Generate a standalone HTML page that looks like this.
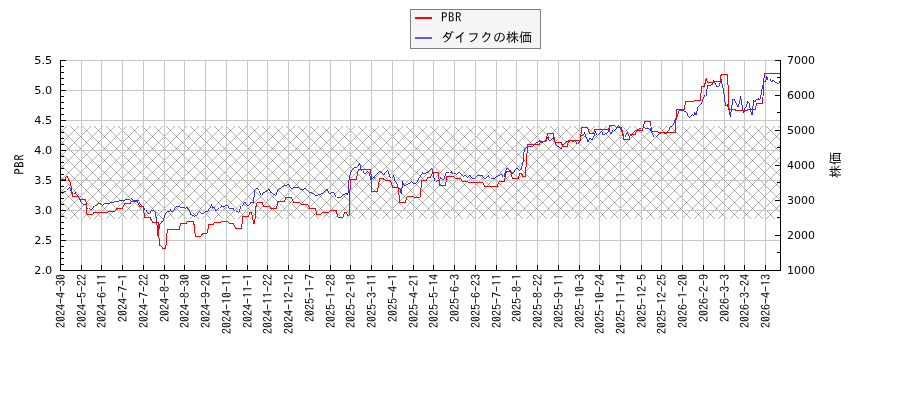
<!DOCTYPE html><html><head><meta charset="utf-8"><title>PBR</title><style>html,body{margin:0;padding:0;background:#fff}svg{display:block}.dv{font-family:"DejaVu Sans","Liberation Sans",sans-serif;font-size:11px;fill:#000}.ip{font-family:"IPAGothic","Liberation Sans","Noto Sans CJK JP",sans-serif;fill:#000}</style></head><body>
<svg width="900" height="400" viewBox="0 0 900 400">
<rect width="900" height="400" fill="#fff"/>
<defs><pattern id="h" width="12" height="12" patternUnits="userSpaceOnUse" x="68" y="124"><g fill="#000" fill-opacity="0.3" shape-rendering="crispEdges"><rect x="0" y="0" width="1" height="1"/><rect x="1" y="1" width="1" height="1"/><rect x="2" y="2" width="1" height="1"/><rect x="3" y="3" width="1" height="1"/><rect x="4" y="4" width="1" height="1"/><rect x="5" y="5" width="1" height="1"/><rect x="6" y="6" width="1" height="1"/><rect x="7" y="7" width="1" height="1"/><rect x="8" y="8" width="1" height="1"/><rect x="9" y="9" width="1" height="1"/><rect x="10" y="10" width="1" height="1"/><rect x="11" y="11" width="1" height="1"/><rect x="0" y="0" width="1" height="1"/><rect x="1" y="11" width="1" height="1"/><rect x="2" y="10" width="1" height="1"/><rect x="3" y="9" width="1" height="1"/><rect x="4" y="8" width="1" height="1"/><rect x="5" y="7" width="1" height="1"/><rect x="6" y="6" width="1" height="1"/><rect x="7" y="5" width="1" height="1"/><rect x="8" y="4" width="1" height="1"/><rect x="9" y="3" width="1" height="1"/><rect x="10" y="2" width="1" height="1"/><rect x="11" y="1" width="1" height="1"/></g></pattern><clipPath id="c"><rect x="60" y="60" width="721" height="211"/></clipPath></defs>
<rect x="61" y="126" width="719" height="93" fill="url(#h)"/>
<path d="M81.5 60V270M101.5 60V270M122.5 60V270M143.5 60V270M164.5 60V270M184.5 60V270M205.5 60V270M226.5 60V270M247.5 60V270M267.5 60V270M288.5 60V270M309.5 60V270M330.5 60V270M350.5 60V270M371.5 60V270M392.5 60V270M413.5 60V270M433.5 60V270M454.5 60V270M475.5 60V270M496.5 60V270M516.5 60V270M537.5 60V270M558.5 60V270M579.5 60V270M599.5 60V270M620.5 60V270M641.5 60V270M661.5 60V270M682.5 60V270M703.5 60V270M724.5 60V270M744.5 60V270M765.5 60V270M60 60.5H780M60 90.5H780M60 120.5H780M60 150.5H780M60 180.5H780M60 210.5H780M60 240.5H780M60 270.5H780" stroke="#c8c8c8" stroke-width="1" fill="none"/>
<g fill="none"><path d="M62.8 193.5L64.5 191.0L66.0 190.0L67.5 188.5L69.5 187.2L70.5 189.0L71.8 193.5L73.0 194.0L75.0 191.5L76.0 194.0L77.5 195.5L79.5 197.5L81.5 202.0L83.5 204.5L86.0 205.5L88.5 208.6L90.0 209.6L92.0 209.2L94.5 205.7L96.4 205.2L98.5 203.2L102.0 205.5L104.0 203.9L108.0 203.9L110.5 202.5L113.0 202.1L116.0 201.7L120.0 200.8L124.0 200.2L127.0 199.2L129.5 200.0L131.2 198.5L133.5 200.5L136.5 200.3L139.2 201.6L140.3 204.5L142.0 206.0L144.0 207.5L146.0 210.0L147.6 213.0L149.0 213.5L150.5 210.5L153.0 209.8L155.0 212.0L156.0 216.5L156.8 223.0L157.6 230.0L158.0 236.5L159.5 223.5L161.0 221.5L162.5 222.0L164.0 216.5L166.0 213.0L168.0 211.0L169.5 212.0L170.5 208.5L171.5 212.0L174.0 208.5L177.5 206.3L180.0 208.0L182.0 207.8L184.5 208.0L187.2 206.5L189.0 210.0L191.0 214.5L193.5 216.0L196.5 215.0L198.5 211.5L201.0 213.3L204.0 213.3L205.5 211.0L207.5 211.0L210.0 206.5L211.5 203.5L213.0 207.5L214.5 207.5L216.5 210.5L219.0 208.0L221.0 205.5L222.5 206.5L224.5 205.5L226.0 206.0L228.0 205.5L230.0 208.5L233.5 208.5L235.5 211.0L238.0 212.5L239.5 211.0L241.0 206.0L243.0 203.5L245.0 202.2L247.5 205.5L250.0 202.5L253.5 202.2L254.5 189.5L256.5 188.2L259.0 190.5L261.5 195.0L262.5 192.5L265.5 191.0L269.0 189.2L271.0 192.5L273.5 194.5L275.2 196.0L277.0 190.5L278.5 188.5L282.0 187.2L284.5 185.5L287.0 185.2L288.5 184.2L290.0 186.5L292.0 188.5L295.0 187.2L297.5 187.5L300.0 189.5L303.0 189.5L304.5 188.5L307.0 190.5L309.0 191.8L312.0 193.2L313.0 193.5L315.5 195.5L319.0 194.5L322.0 193.5L325.5 189.5L327.5 189.7L329.0 193.0L331.0 193.0L334.0 192.5L336.5 197.0L341.0 197.3L344.0 194.5L346.5 193.0L347.5 195.0L348.5 189.5L349.0 180.0L350.0 173.5L351.5 169.5L353.5 167.5L356.2 168.0L358.0 166.0L359.3 163.0L361.0 168.5L363.0 171.0L365.0 174.0L367.5 171.0L369.5 174.0L371.0 179.5L373.0 176.5L374.0 177.5L377.0 174.0L380.0 171.0L382.0 172.8L383.5 174.5L385.5 171.5L387.5 170.2L389.0 173.5L391.0 178.0L393.0 175.5L393.5 175.0L395.0 181.0L396.5 183.0L398.5 188.0L400.0 188.5L401.5 193.5L402.5 180.5L404.5 185.5L407.5 183.5L409.5 182.5L411.2 181.5L413.5 183.5L415.5 182.5L417.5 180.5L419.5 177.0L422.0 172.5L424.5 173.5L427.5 171.5L430.5 168.5L432.5 169.5L434.0 177.5L435.5 181.0L438.5 180.0L440.0 177.5L442.5 179.5L444.5 178.0L445.5 172.5L448.0 172.5L449.0 173.0L451.0 170.5L453.5 173.5L456.0 174.5L459.0 172.2L461.0 174.0L462.5 176.0L464.5 175.5L467.0 177.5L470.0 175.4L472.5 178.5L475.0 178.3L477.0 176.0L479.5 175.5L482.5 175.5L485.0 178.5L488.5 175.5L491.0 178.0L494.0 178.8L497.0 176.3L500.0 175.0L502.0 174.5L504.0 177.2L505.5 171.0L506.5 168.3L508.5 170.0L510.5 170.5L512.0 173.5L514.5 170.5L516.5 168.3L519.0 170.5L521.5 167.5L523.0 162.0L523.5 155.0L524.5 149.0L525.5 147.5L528.5 146.5L531.0 147.0L534.0 145.0L537.0 142.5L539.5 140.5L541.0 143.0L544.0 141.5L547.0 137.5L548.5 138.0L549.5 141.0L551.5 138.5L553.2 136.5L554.5 141.0L556.0 144.5L558.0 146.5L561.0 148.5L563.0 145.0L566.0 142.0L568.5 141.0L570.5 140.0L572.5 142.0L574.5 140.0L576.5 142.5L578.0 144.0L579.5 142.0L580.5 135.5L583.0 134.5L584.5 131.5L586.0 137.0L588.0 141.5L590.0 137.8L592.0 139.5L594.0 134.5L595.5 130.5L597.5 135.0L599.5 132.5L601.5 131.0L603.0 135.0L605.0 134.0L607.5 132.5L609.0 126.5L610.5 133.5L612.5 129.5L613.5 131.0L615.5 128.5L617.5 125.5L619.5 126.5L621.5 129.5L624.5 137.0L627.0 131.5L629.5 136.0L632.0 133.5L635.5 130.5L639.0 128.0L641.0 129.0L643.0 126.5L646.0 128.5L648.5 129.0L650.5 128.5L652.0 132.5L655.0 137.0L658.5 133.5L662.0 132.5L666.0 133.5L669.0 128.5L670.0 127.0L672.0 126.2L674.5 120.5L676.5 117.0L678.0 112.5L679.5 110.0L682.0 110.0L685.0 111.5L687.0 112.8L688.5 117.0L691.5 114.5L693.5 116.2L694.5 111.5L696.3 115.0L697.5 106.5L700.0 104.5L701.5 103.5L703.0 99.0L704.5 94.5L706.1 96.3L707.0 89.0L707.8 85.0L710.0 85.5L712.5 84.0L713.5 80.0L715.0 82.5L717.0 86.5L718.5 86.0L720.0 81.5L721.2 78.5L722.5 85.0L724.0 94.0L725.5 105.7L727.1 103.5L729.0 108.0L730.3 117.0L731.5 108.0L733.0 99.0L734.5 100.0L736.5 104.0L738.0 107.0L739.5 102.0L740.7 95.5L742.0 105.0L743.5 112.5L744.5 108.5L746.0 107.0L747.5 100.5L749.0 102.5L750.5 109.5L752.2 115.0L753.5 99.5L755.0 101.5L756.5 99.3L758.5 97.5L759.5 100.0L761.0 93.5L762.5 87.0L764.0 82.0L765.5 81.0L766.8 75.5L768.5 80.0L770.0 78.5L771.8 82.0L773.0 80.0L774.5 82.0L777.5 83.5L779.0 81.5L780.0 79.5" stroke="#0000ff" stroke-width="0.8" shape-rendering="crispEdges"/><path d="M61.0 179.7L65.0 179.7L66.0 177.0L66.8 176.3L67.8 177.0L69.0 180.5L70.5 183.0L71.8 190.0L72.5 196.2L78.5 196.5L79.5 199.3L85.5 199.3L86.5 205.0L87.0 214.0L93.0 214.0L94.0 212.5L108.0 212.2L109.0 211.3L115.5 211.0L116.8 208.5L122.5 208.3L124.3 204.0L130.0 203.5L131.5 201.6L137.3 201.6L139.5 206.1L143.3 206.4L144.5 217.5L150.0 217.5L152.5 222.2L158.3 222.5L158.8 235.0L159.5 245.5L161.0 246.0L162.8 248.3L165.2 248.3L166.2 244.0L166.8 234.0L167.5 229.5L179.2 229.5L180.5 223.7L186.2 223.5L187.5 221.5L193.7 221.5L194.8 232.0L195.5 236.3L201.0 236.3L202.5 233.5L207.2 233.2L208.8 224.5L213.5 224.2L214.5 222.2L220.5 222.2L221.5 221.3L227.6 221.3L229.5 223.5L233.5 223.7L235.5 228.3L241.5 228.3L242.2 222.5L242.8 216.5L248.5 216.2L250.0 212.5L251.5 212.5L253.0 220.0L253.8 223.5L254.5 223.0L255.2 217.0L255.5 209.0L256.8 202.8L262.0 202.5L263.5 206.2L269.5 206.5L271.0 208.5L276.5 208.5L278.0 201.5L284.5 201.2L285.8 197.7L291.5 197.7L293.5 202.2L299.5 202.2L301.0 204.3L307.8 204.3L309.5 208.3L315.5 208.6L316.8 214.3L321.0 214.3L322.5 212.5L328.5 212.3L330.5 210.3L336.2 210.3L337.8 217.2L342.8 217.2L344.5 212.5L346.5 212.5L347.5 215.2L349.2 215.2L349.8 197.5L350.3 179.5L356.3 179.3L358.4 169.5L370.8 169.5L371.3 180.0L371.5 191.3L377.5 191.3L378.5 185.0L379.5 178.8L383.5 178.8L384.5 180.0L390.5 180.3L392.5 187.1L398.5 187.5L399.5 202.3L405.5 202.3L407.0 196.8L413.5 196.8L414.5 197.3L420.0 197.3L421.0 188.0L421.8 180.5L426.5 180.3L427.8 177.5L430.5 177.2L432.5 172.5L438.5 172.5L439.5 185.3L445.5 185.3L447.0 176.5L453.5 176.5L454.5 178.0L460.5 178.3L462.0 181.0L467.5 181.2L468.5 182.3L482.5 182.2L484.5 186.3L497.2 186.3L499.2 181.5L504.5 181.2L506.2 171.5L510.5 171.5L512.5 178.2L518.5 178.2L519.5 173.5L521.5 173.5L522.8 176.3L525.2 176.3L526.0 167.5L526.5 160.0L527.2 151.0L527.5 144.5L539.5 144.2L540.5 141.3L546.2 141.0L547.5 133.7L553.5 133.7L554.8 142.2L561.5 142.5L562.5 146.3L567.5 146.3L568.5 140.5L580.5 140.3L581.5 127.5L587.5 127.3L589.5 133.2L593.5 133.2L594.8 129.4L608.5 129.2L610.0 125.5L614.8 125.5L616.5 127.5L621.5 127.5L623.5 139.3L629.2 139.3L630.5 134.5L635.5 134.3L636.5 130.5L642.5 130.3L644.5 121.5L650.5 121.5L651.5 131.3L657.5 131.3L658.5 132.3L675.5 132.3L676.0 120.0L676.5 109.5L684.3 109.4L685.5 101.8L694.0 101.4L694.5 100.4L700.5 100.3L701.5 86.5L704.5 86.3L705.5 81.0L706.3 78.5L707.5 82.5L714.0 82.5L714.8 81.5L720.0 81.3L721.2 74.5L727.5 74.5L728.5 95.0L728.9 109.4L735.0 109.4L735.5 110.5L747.5 110.5L748.0 109.4L755.5 109.4L756.3 103.4L762.5 103.4L763.0 97.0L763.7 81.0L764.5 73.4L780.0 73.4" stroke="#ff0000" stroke-width="1" stroke-linejoin="bevel" shape-rendering="crispEdges"/></g>
<path d="M60.5 60V271M60 270.5H781M780.5 60V271" stroke="#000" stroke-width="1" fill="none"/>
<path d="M60 60.5h6M60 66.5h4M60 72.5h4M60 78.5h4M60 84.5h4M60 90.5h6M60 96.5h4M60 102.5h4M60 108.5h4M60 114.5h4M60 120.5h6M60 126.5h4M60 132.5h4M60 138.5h4M60 144.5h4M60 150.5h6M60 156.5h4M60 162.5h4M60 168.5h4M60 174.5h4M60 180.5h6M60 186.5h4M60 192.5h4M60 198.5h4M60 204.5h4M60 210.5h6M60 216.5h4M60 222.5h4M60 228.5h4M60 234.5h4M60 240.5h6M60 246.5h4M60 252.5h4M60 258.5h4M60 264.5h4M60 270.5h6M81.5 270v-5M101.5 270v-5M122.5 270v-5M143.5 270v-5M164.5 270v-5M184.5 270v-5M205.5 270v-5M226.5 270v-5M247.5 270v-5M267.5 270v-5M288.5 270v-5M309.5 270v-5M330.5 270v-5M350.5 270v-5M371.5 270v-5M392.5 270v-5M413.5 270v-5M433.5 270v-5M454.5 270v-5M475.5 270v-5M496.5 270v-5M516.5 270v-5M537.5 270v-5M558.5 270v-5M579.5 270v-5M599.5 270v-5M620.5 270v-5M641.5 270v-5M661.5 270v-5M682.5 270v-5M703.5 270v-5M724.5 270v-5M744.5 270v-5M765.5 270v-5M781 60.50h-6M781 77.50h-4M781 95.50h-6M781 112.50h-4M781 130.50h-6M781 147.50h-4M781 165.50h-6M781 182.50h-4M781 200.50h-6M781 217.50h-4M781 235.50h-6M781 252.50h-4" stroke="#000" stroke-width="1" fill="none"/>
<text class="dv" style="font-size:11.3px" x="52.2" y="64.1" text-anchor="end">5.5</text>
<text class="dv" style="font-size:11.3px" x="52.2" y="94.1" text-anchor="end">5.0</text>
<text class="dv" style="font-size:11.3px" x="52.2" y="124.1" text-anchor="end">4.5</text>
<text class="dv" style="font-size:11.3px" x="52.2" y="154.1" text-anchor="end">4.0</text>
<text class="dv" style="font-size:11.3px" x="52.2" y="184.1" text-anchor="end">3.5</text>
<text class="dv" style="font-size:11.3px" x="52.2" y="214.1" text-anchor="end">3.0</text>
<text class="dv" style="font-size:11.3px" x="52.2" y="244.1" text-anchor="end">2.5</text>
<text class="dv" style="font-size:11.3px" x="52.2" y="274.1" text-anchor="end">2.0</text>
<text class="dv" x="787" y="64.1">7000</text>
<text class="dv" x="787" y="99.1">6000</text>
<text class="dv" x="787" y="134.1">5000</text>
<text class="dv" x="787" y="169.1">4000</text>
<text class="dv" x="787" y="204.1">3000</text>
<text class="dv" x="787" y="239.1">2000</text>
<text class="dv" x="787" y="274.1">1000</text>
<text class="ip" font-size="12" text-anchor="end" transform="translate(64.5 274) rotate(-90)">2024-4-30</text>
<text class="ip" font-size="12" text-anchor="end" transform="translate(85.5 274) rotate(-90)">2024-5-22</text>
<text class="ip" font-size="12" text-anchor="end" transform="translate(105.5 274) rotate(-90)">2024-6-11</text>
<text class="ip" font-size="12" text-anchor="end" transform="translate(126.5 274) rotate(-90)">2024-7-1</text>
<text class="ip" font-size="12" text-anchor="end" transform="translate(147.5 274) rotate(-90)">2024-7-22</text>
<text class="ip" font-size="12" text-anchor="end" transform="translate(168.5 274) rotate(-90)">2024-8-9</text>
<text class="ip" font-size="12" text-anchor="end" transform="translate(188.5 274) rotate(-90)">2024-8-30</text>
<text class="ip" font-size="12" text-anchor="end" transform="translate(209.5 274) rotate(-90)">2024-9-20</text>
<text class="ip" font-size="12" text-anchor="end" transform="translate(230.5 274) rotate(-90)">2024-10-11</text>
<text class="ip" font-size="12" text-anchor="end" transform="translate(251.5 274) rotate(-90)">2024-11-1</text>
<text class="ip" font-size="12" text-anchor="end" transform="translate(271.5 274) rotate(-90)">2024-11-22</text>
<text class="ip" font-size="12" text-anchor="end" transform="translate(292.5 274) rotate(-90)">2024-12-12</text>
<text class="ip" font-size="12" text-anchor="end" transform="translate(313.5 274) rotate(-90)">2025-1-7</text>
<text class="ip" font-size="12" text-anchor="end" transform="translate(334.5 274) rotate(-90)">2025-1-28</text>
<text class="ip" font-size="12" text-anchor="end" transform="translate(354.5 274) rotate(-90)">2025-2-18</text>
<text class="ip" font-size="12" text-anchor="end" transform="translate(375.5 274) rotate(-90)">2025-3-11</text>
<text class="ip" font-size="12" text-anchor="end" transform="translate(396.5 274) rotate(-90)">2025-4-1</text>
<text class="ip" font-size="12" text-anchor="end" transform="translate(417.5 274) rotate(-90)">2025-4-21</text>
<text class="ip" font-size="12" text-anchor="end" transform="translate(437.5 274) rotate(-90)">2025-5-14</text>
<text class="ip" font-size="12" text-anchor="end" transform="translate(458.5 274) rotate(-90)">2025-6-3</text>
<text class="ip" font-size="12" text-anchor="end" transform="translate(479.5 274) rotate(-90)">2025-6-23</text>
<text class="ip" font-size="12" text-anchor="end" transform="translate(500.5 274) rotate(-90)">2025-7-11</text>
<text class="ip" font-size="12" text-anchor="end" transform="translate(520.5 274) rotate(-90)">2025-8-1</text>
<text class="ip" font-size="12" text-anchor="end" transform="translate(541.5 274) rotate(-90)">2025-8-22</text>
<text class="ip" font-size="12" text-anchor="end" transform="translate(562.5 274) rotate(-90)">2025-9-11</text>
<text class="ip" font-size="12" text-anchor="end" transform="translate(583.5 274) rotate(-90)">2025-10-3</text>
<text class="ip" font-size="12" text-anchor="end" transform="translate(603.5 274) rotate(-90)">2025-10-24</text>
<text class="ip" font-size="12" text-anchor="end" transform="translate(624.5 274) rotate(-90)">2025-11-14</text>
<text class="ip" font-size="12" text-anchor="end" transform="translate(645.5 274) rotate(-90)">2025-12-5</text>
<text class="ip" font-size="12" text-anchor="end" transform="translate(665.5 274) rotate(-90)">2025-12-25</text>
<text class="ip" font-size="12" text-anchor="end" transform="translate(686.5 274) rotate(-90)">2026-1-20</text>
<text class="ip" font-size="12" text-anchor="end" transform="translate(707.5 274) rotate(-90)">2026-2-9</text>
<text class="ip" font-size="12" text-anchor="end" transform="translate(728.5 274) rotate(-90)">2026-3-3</text>
<text class="ip" font-size="12" text-anchor="end" transform="translate(748.5 274) rotate(-90)">2026-3-24</text>
<text class="ip" font-size="12" text-anchor="end" transform="translate(769.5 274) rotate(-90)">2026-4-13</text>
<text class="ip" font-size="13" letter-spacing="0.5" text-anchor="middle" transform="translate(23.8 164.2) rotate(-90)">PBR</text>
<text class="ip" font-size="13" text-anchor="middle" transform="translate(840 165) rotate(-90)">株価</text>
<rect x="410.5" y="9.5" width="130" height="39" fill="#f5f5f5" stroke="#808080"/>
<path d="M415 18H432" stroke="#f00" stroke-width="2"/><path d="M415 38H432" stroke="#5a5aff" stroke-width="2"/>
<text class="ip" font-size="13" letter-spacing="0.5" x="441" y="21.8">PBR</text>
<text class="ip" font-size="13" x="441" y="42">ダイフクの株価</text>
</svg></body></html>
